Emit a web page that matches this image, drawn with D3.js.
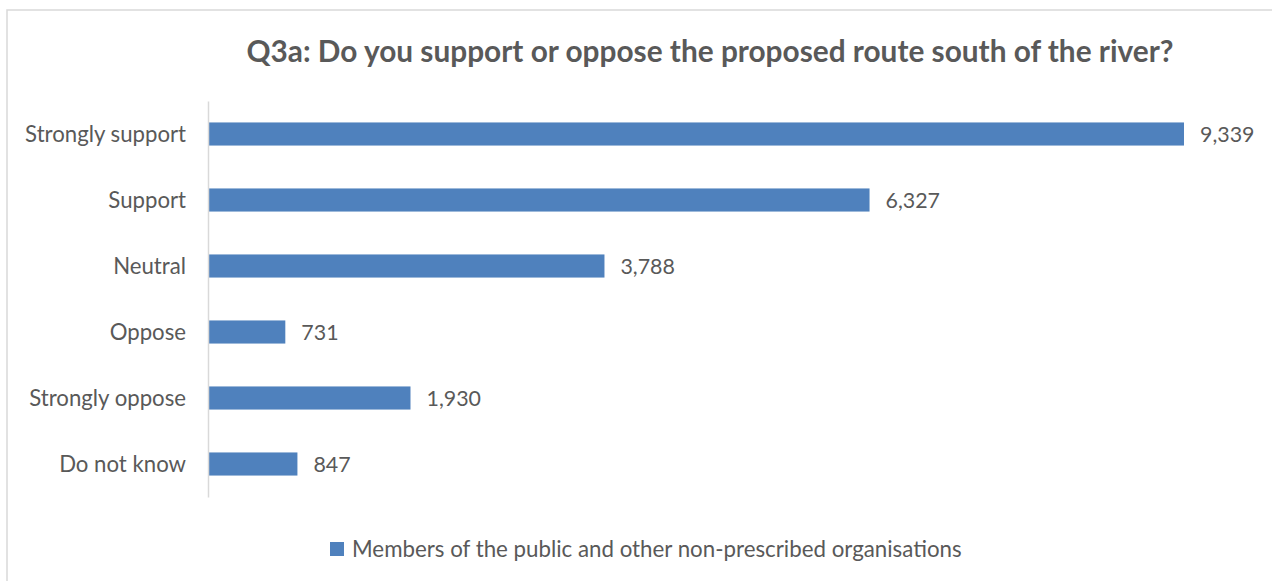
<!DOCTYPE html>
<html>
<head>
<meta charset="utf-8">
<script src="https://cdn.jsdelivr.net/npm/d3@7"></script>
<style>
  html, body { margin: 0; padding: 0; background: #fff; }
  svg { display: block; font-family: Lato, "Open Sans", sans-serif; }
</style>
</head>
<body>
<svg id="chart" width="1272" height="581"></svg>
<script>
const title = "Q3a: Do you support or oppose the proposed route south of the river?";
const categories = ["Strongly support", "Support", "Neutral", "Oppose", "Strongly oppose", "Do not know"];
const values = [9339, 6327, 3788, 731, 1930, 847];
const seriesName = "Members of the public and other non-prescribed organisations";

const W = 1272, H = 581;
const textColor = "#595959";
const barColor = "#4F81BD";
const fmt = d3.format(",");

const svg = d3.select("#chart");

// chart area frame
svg.append("rect")
  .attr("x", 7).attr("y", 10)
  .attr("width", W + 20).attr("height", H + 20)
  .attr("fill", "#fff")
  .attr("stroke", "#d9d9d9").attr("stroke-width", 1.5);

svg.append("text")
  .attr("x", 710).attr("y", 62)
  .attr("text-anchor", "middle")
  .attr("fill", textColor)
  .attr("font-weight", "bold")
  .attr("font-size", 29.8)
  .text(title);

const plot = { left: 209, right: 1253, top: 101, bottom: 497 };

const x = d3.scaleLinear().domain([0, 10000]).range([plot.left, plot.right]);
const y = d3.scaleBand().domain(categories).range([plot.top, plot.bottom]).paddingInner(0.65).paddingOuter(0.325);

// bars
svg.append("g").selectAll("rect")
  .data(values)
  .join("rect")
  .attr("x", x(0))
  .attr("y", (d, i) => y(categories[i]))
  .attr("width", d => x(d) - x(0))
  .attr("height", y.bandwidth())
  .attr("fill", barColor);

// value labels
svg.append("g").selectAll("text")
  .data(values)
  .join("text")
  .attr("x", d => x(d) + 16)
  .attr("y", (d, i) => y(categories[i]) + y.bandwidth() / 2 + 1)
  .attr("dy", "0.35em")
  .attr("fill", textColor)
  .attr("font-size", 21.4)
  .text(d => fmt(d));

// category axis
const yAxis = svg.append("g")
  .attr("transform", `translate(${plot.left - 1},0)`)
  .call(d3.axisLeft(y).tickSize(0).tickPadding(22));
yAxis.select(".domain").attr("stroke", "#d9d9d9").attr("stroke-width", 1.5);
yAxis.selectAll("text")
  .attr("fill", textColor)
  .attr("font-size", 22.2)
  .attr("font-family", "Lato, 'Open Sans', sans-serif")
  .attr("transform", "translate(0,1)");

// legend
const legend = svg.append("g").attr("transform", "translate(330,542)");
legend.append("rect").attr("width", 14).attr("height", 14).attr("fill", barColor);
legend.append("text")
  .attr("x", 22).attr("y", 7).attr("dy", "0.35em")
  .attr("fill", textColor)
  .attr("font-size", 22.3)
  .text(seriesName);
</script>
</body>
</html>
